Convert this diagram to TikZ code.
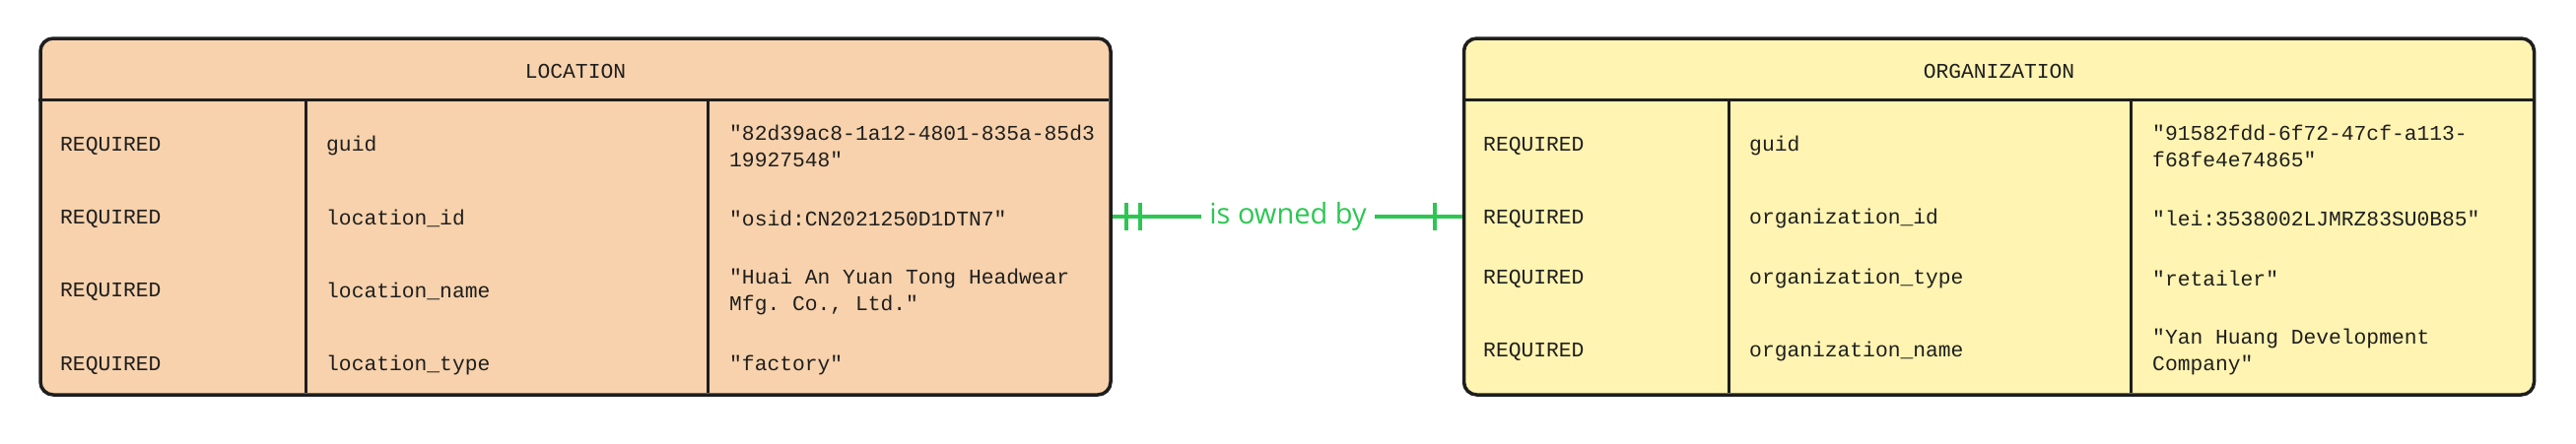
\documentclass[tikz,border=0pt]{standalone}
\usepackage{fontspec}
\setmonofont{Liberation Mono}
\newfontfamily\relfont{Open Sans}
\usetikzlibrary{positioning}
\definecolor{locfill}{HTML}{F7D2AC}
\definecolor{orgfill}{HTML}{FFF4B2}
\definecolor{ink}{HTML}{1E1E1E}
\definecolor{relgreen}{HTML}{2DC653}

\begin{document}
\begin{tikzpicture}[%
        x=1pt, y=-1pt,
        every node/.style={inner sep=0pt, text=ink},
        entity/.style={rectangle, draw=ink, line width=3.5pt, rounded corners=13pt, minimum width=1086pt, minimum height=362pt},
        rule/.style={draw=ink, line width=3pt},
        cell/.style={anchor=west, align=left, font=\fontsize{21.3}{27}\selectfont\ttfamily},
        head/.style={font=\fontsize{21.3}{27}\selectfont\ttfamily},
        rel/.style={draw=relgreen, line width=4pt}
      ]
      \useasboundingbox (0,0) rectangle (2614,450);
      % the two entities
      \node [entity, fill=locfill] (loc) at (584,220) {};
      \node [entity, fill=orgfill] (org) at (2028.5,220) {};
      \draw [rule, line width=3.5pt] (loc.north west) ++(0,64) -- ++(1086,0);
      \draw [rule] (loc.north west) ++(271,64) -- ++(0,298);
      \draw [rule] (loc.north west) ++(679,64) -- ++(0,298);
      \draw [rule, line width=3.5pt] (org.north west) ++(0,64) -- ++(1087,0);
      \draw [rule] (org.north west) ++(271,64) -- ++(0,298);
      \draw [rule] (org.north west) ++(679,64) -- ++(0,298);
      \node [head] (lochead) at (584,72) {LOCATION};
      \node [head] (orghead) at (2028.5,72) {ORGANIZATION};
      % LOCATION rows
      \node [cell] (lreq1) at (61,148) {REQUIRED};
      \node [cell] (lfld1) at (331,148) {guid};
      \node [cell] (lval1) at (740,148) {"82d39ac8-1a12-4801-835a-85d3\\19927548"};
      \node [cell] (lreq2) at (61,222) {REQUIRED};
      \node [cell] (lfld2) at (331,222) {location\_id};
      \node [cell] (lval2) at (740,222) {"osid:CN2021250D1DTN7"};
      \node [cell] (lreq3) at (61,296) {REQUIRED};
      \node [cell] (lfld3) at (331,296) {location\_name};
      \node [cell] (lval3) at (740,296) {"Huai An Yuan Tong Headwear\\Mfg. Co., Ltd."};
      \node [cell] (lreq4) at (61,371) {REQUIRED};
      \node [cell] (lfld4) at (331,371) {location\_type};
      \node [cell] (lval4) at (740,371) {"factory"};
      % ORGANIZATION rows
      \node [cell] (oreq1) at (1505,148) {REQUIRED};
      \node [cell] (ofld1) at (1775,148) {guid};
      \node [cell] (oval1) at (2184,148) {"91582fdd-6f72-47cf-a113-\\f68fe4e74865"};
      \node [cell] (oreq2) at (1505,222) {REQUIRED};
      \node [cell] (ofld2) at (1775,222) {organization\_id};
      \node [cell] (oval2) at (2184,222) {"lei:3538002LJMRZ83SU0B85"};
      \node [cell] (oreq3) at (1505,283) {REQUIRED};
      \node [cell] (ofld3) at (1775,283) {organization\_type};
      \node [cell] (oval3) at (2184,283) {"retailer"};
      \node [cell] (oreq4) at (1505,357) {REQUIRED};
      \node [cell] (ofld4) at (1775,357) {organization\_name};
      \node [cell] (oval4) at (2184,357) {"Yan Huang Development\\Company"};
      % relation
      \node [inner sep=8pt, text=relgreen, font=\relfont\fontsize{29}{34}\selectfont] (owned) at (1307,220) {is owned by};
      \draw [rel] (loc.east) -- (owned.west);
      \draw [rel] (owned.east) -- (org.west);
      \draw [rel] ([xshift=14pt]loc.east) ++(0,-14) -- ++(0,28);
      \draw [rel] ([xshift=28pt]loc.east) ++(0,-14) -- ++(0,28);
      \draw [rel] ([xshift=-28pt]org.west) ++(0,-14) -- ++(0,28);
    \end{tikzpicture}
\end{document}
